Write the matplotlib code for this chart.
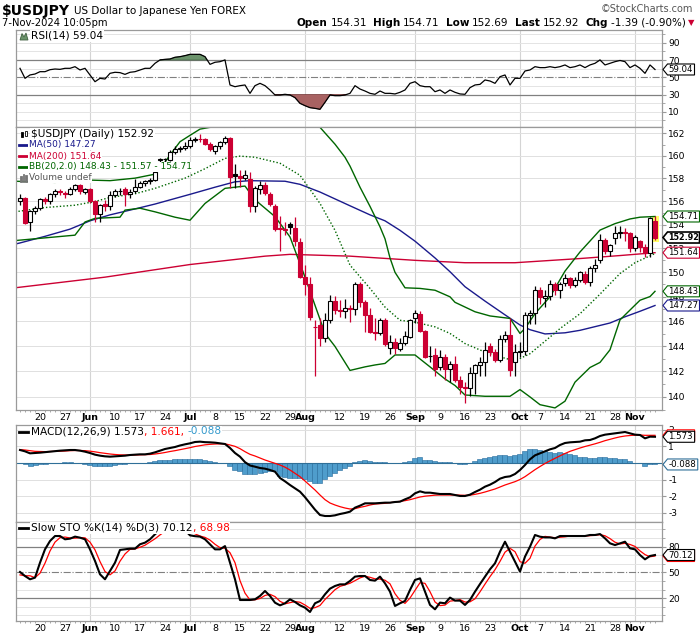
import matplotlib
matplotlib.use("Agg")
import matplotlib.pyplot as plt
from matplotlib.patches import Rectangle, Polygon
from matplotlib.ticker import FixedLocator, FixedFormatter, NullFormatter
from matplotlib.transforms import IdentityTransform

# ---- values: daily bars 14-May-2024 .. 7-Nov-2024 (index 0..127) ----
opens = [156.0, 156.3, 154.24, 155.16, 155.48, 156.2, 156.0, 156.62, 156.92, 156.72,
         156.62, 157.09, 157.44, 156.82, 157.04, 156.0, 154.96, 155.78, 155.58, 156.57,
         156.87, 157.04, 156.62, 156.87, 157.29, 157.61, 157.76, 157.91, 159.62, 159.72,
         159.67, 160.35, 160.6, 160.68, 160.83, 161.4, 161.5, 161.45, 161.08, 160.45,
         160.83, 161.25, 161.55, 158.38, 158.23, 158.08, 157.96, 155.58, 157.04, 157.39,
         156.67, 155.63, 153.73, 153.63, 154.04, 153.73, 152.56, 149.6, 149.05, 145.49,
         145.69, 144.62, 146.12, 147.63, 146.94, 146.86, 147.04, 146.99, 149.05, 147.53,
         146.46, 145.16, 145.01, 146.07, 143.87, 144.35, 143.77, 144.25, 144.72, 146.27,
         146.61, 145.21, 143.19, 143.29, 142.35, 143.09, 142.15, 142.55, 141.35, 140.79,
         140.67, 141.87, 142.5, 142.72, 143.97, 143.49, 142.87, 144.57, 144.92, 142.72,
         143.49, 143.57, 146.46, 146.66, 148.55, 147.92, 148.02, 149.0, 148.55, 149.1,
         149.55, 148.95, 149.4, 149.9, 149.2, 150.4, 151.0, 152.7, 151.8, 152.9,
         153.3, 153.4, 153.3, 152.0, 152.6, 152.1, 151.6, 154.31]
highs = [156.62, 156.4, 155.26, 155.58, 156.3, 156.4, 156.72, 157.04, 157.04, 156.92,
         157.24, 157.56, 157.56, 157.14, 157.14, 156.1, 155.78, 156.1, 156.92, 157.04,
         157.14, 157.24, 157.04, 157.96, 157.76, 157.86, 158.08, 158.81, 159.82, 159.82,
         160.5, 160.83, 160.83, 161.25, 161.65, 161.7, 161.93, 161.55, 161.25, 160.93,
         161.35, 161.78, 161.65, 159.24, 158.71, 158.71, 158.58, 157.34, 157.76, 157.66,
         156.82, 155.78, 154.75, 154.24, 154.24, 154.65, 152.91, 150.6, 149.6, 146.07,
         146.27, 146.66, 148.12, 148.02, 147.73, 147.83, 147.34, 149.2, 149.2, 147.73,
         147.04, 146.27, 146.27, 146.27, 144.92, 144.62, 144.62, 145.21, 146.17, 146.94,
         146.86, 145.31, 143.97, 143.87, 143.69, 143.39, 142.82, 143.19, 141.67, 141.14,
         142.35, 142.55, 143.09, 144.35, 144.25, 143.77, 144.92, 145.21, 146.27, 144.15,
         144.35, 146.76, 146.94, 148.9, 148.8, 148.5, 149.4, 149.2, 149.2, 149.9,
         149.6, 149.6, 150.1, 150.1, 150.5, 151.1, 153.2, 152.9, 152.4, 153.9,
         153.9, 153.7, 153.4, 153.1, 152.7, 152.4, 154.7, 154.71]
lows = [155.68, 154.04, 153.43, 154.96, 155.26, 155.78, 155.78, 156.4, 156.52, 156.3,
        156.52, 156.92, 156.62, 156.62, 155.88, 154.24, 154.24, 155.16, 155.26, 156.4,
        156.52, 155.58, 156.3, 156.72, 157.14, 157.34, 157.56, 157.76, 159.44, 159.44,
        159.54, 160.2, 160.3, 160.5, 160.73, 161.25, 161.25, 160.93, 160.4, 160.2,
        160.6, 161.03, 157.14, 157.14, 157.24, 157.86, 155.06, 155.06, 156.62, 156.52,
        155.58, 153.43, 151.8, 153.12, 153.22, 152.21, 149.5, 148.12, 146.07, 141.6,
        143.97, 144.35, 145.89, 146.56, 146.37, 146.27, 145.97, 146.46, 147.14, 145.11,
        145.01, 144.45, 144.92, 143.97, 143.39, 143.39, 143.57, 144.05, 144.62, 145.89,
        145.11, 143.02, 142.72, 141.67, 142.07, 141.3, 141.2, 141.14, 140.2, 139.5,
        140.1, 140.2, 141.6, 141.6, 143.19, 142.72, 142.72, 144.35, 141.6, 141.6,
        143.09, 143.29, 145.79, 145.79, 147.43, 147.14, 147.73, 148.12, 147.92, 148.9,
        148.7, 148.8, 149.2, 149.0, 148.9, 150.0, 150.8, 151.5, 151.4, 152.4,
        152.9, 152.6, 151.7, 151.8, 151.7, 151.3, 151.3, 152.69]
closes = [156.3, 154.14, 155.21, 155.48, 156.2, 156.0, 156.62, 156.92, 156.82, 156.62,
          157.09, 157.44, 156.87, 157.09, 156.0, 154.96, 155.68, 155.63, 156.57, 156.87,
          156.87, 156.67, 156.82, 157.29, 157.61, 157.76, 157.91, 158.61, 159.69, 159.7,
          160.35, 160.6, 160.71, 160.83, 161.4, 161.5, 161.45, 161.03, 160.6, 160.83,
          161.25, 161.55, 158.13, 158.23, 158.08, 158.28, 155.58, 157.14, 157.44, 156.72,
          155.78, 153.68, 153.63, 153.58, 153.78, 152.61, 149.6, 149.05, 146.37, 145.54,
          144.62, 146.12, 147.63, 146.89, 146.86, 147.04, 146.99, 149.05, 147.58, 146.46,
          145.16, 145.01, 146.07, 144.2, 144.35, 143.82, 144.25, 144.77, 146.07, 146.66,
          145.21, 143.14, 143.24, 142.15, 143.09, 142.15, 142.55, 141.35, 140.79, 140.67,
          141.87, 142.5, 142.72, 143.67, 143.49, 142.87, 144.57, 144.92, 142.07, 143.54,
          143.62, 146.46, 146.66, 148.55, 147.97, 148.02, 149.0, 148.5, 149.0, 149.55,
          148.95, 149.4, 150.05, 149.2, 150.4, 150.6, 152.7, 151.8, 152.3, 153.3,
          153.4, 153.3, 152.0, 152.97, 152.1, 151.6, 154.6, 152.92]

# overlays, read at selected bars (bar index, value)
ma50_idx = [-1, 0, 5, 10, 14, 18, 23, 27, 34, 39, 43, 46, 53, 56, 60, 66, 70, 73, 76, 79,
            83, 86, 89, 93, 97, 100, 102, 105, 109, 112, 118, 121, 124, 127]
ma50_val = [152.36, 152.46, 153.02, 153.63, 154.34, 154.85, 155.36, 155.78, 156.62, 157.24,
            157.71, 157.81, 157.76, 157.49, 156.82, 155.63, 154.85, 154.34, 153.53, 152.61,
            151.2, 150.05, 148.81, 147.63, 146.51, 145.69, 145.31, 144.97, 145.06, 145.26,
            145.85, 146.35, 146.8, 147.27]
ma200_idx = [-1, 17, 34, 49, 54, 66, 79, 89, 99, 112, 120, 127]
ma200_val = [148.72, 149.6, 150.65, 151.35, 151.5, 151.35, 151.0, 150.8, 150.8, 151.15, 151.4, 151.64]
bb_up_idx = [-1, 7, 14, 18, 23, 27, 28, 30, 32, 34, 36, 38, 42, 45, 47, 52, 57, 60, 63, 65,
             66, 68, 70, 72, 73, 74, 75, 77, 80, 83, 86, 87, 91, 94, 98, 100, 101, 103, 106,
             109, 112, 116, 119, 122, 124, 127]
bb_up_val = [157.76, 157.66, 157.86, 157.81, 158.03, 158.38, 158.81, 160.07, 161.25, 161.82,
             162.38, 162.54, 162.6, 162.54, 163.2, 163.6, 163.3, 162.54, 161.03, 159.87,
             159.09, 157.24, 155.58, 153.83, 152.81, 151.2, 150.0, 148.72, 148.67, 148.52,
             147.98, 147.53, 146.76, 146.42, 146.22, 145.01, 145.41, 146.61, 147.98, 150.1,
             151.7, 153.55, 154.1, 154.5, 154.65, 154.71]
bb_mid_idx = [-1, 5, 11, 15, 18, 23, 27, 33, 37, 41, 44, 47, 52, 56, 60, 63, 66, 70, 73, 76,
              79, 83, 86, 89, 93, 96, 99, 102, 106, 108, 112, 116, 120, 123, 127]
bb_mid_val = [155.11, 155.48, 155.68, 156.0, 156.35, 156.67, 157.14, 158.03, 158.86, 159.77,
              159.97, 159.87, 159.34, 158.28, 155.83, 153.53, 150.6, 148.67, 147.14, 146.07,
              145.92, 145.54, 145.01, 144.2, 143.52, 143.14, 142.82, 143.39, 144.72, 145.4,
              146.6, 148.2, 149.9, 150.8, 151.57]
bb_lo_idx = [-1, 11, 13, 15, 20, 21, 24, 27, 31, 34, 37, 41, 45, 47, 51, 54, 57, 61, 63, 66,
             69, 71, 73, 75, 79, 82, 85, 87, 89, 93, 98, 100, 102, 104, 107, 109, 111, 114,
             116, 118, 120, 122, 124, 126, 127]
bb_lo_val = [152.66, 153.12, 154.24, 154.55, 154.65, 155.26, 155.42, 155.11, 154.65, 154.39,
             155.83, 157.14, 157.34, 156.15, 154.7, 152.97, 149.6, 145.01, 143.97, 142.07,
             142.35, 142.5, 142.62, 143.29, 143.29, 142.35, 141.4, 140.89, 140.15, 140.05,
             140.05, 140.57, 140.0, 139.4, 139.15, 139.67, 141.15, 142.3, 142.7, 143.7,
             146.1, 146.9, 147.7, 148.0, 148.43]

rsi = [60.4, 48.8, 52.7, 53.8, 56.5, 56.5, 58.8, 59.6, 59.2, 60.4,
       60.4, 62.3, 58.5, 60.4, 52.7, 44.9, 48.8, 48.0, 54.6, 55.8,
       55.4, 53.4, 55.8, 56.5, 58.5, 60.4, 60.4, 66.2, 70.1, 70.8,
       71.2, 73.2, 73.9, 75.1, 76.6, 76.6, 76.6, 73.9, 65.0, 67.4,
       68.1, 70.1, 41.1, 39.1, 40.3, 41.1, 31.4, 40.3, 43.0, 40.3,
       35.3, 29.5, 29.5, 30.3, 29.5, 26.4, 19.8, 17.1, 14.8, 14.0,
       12.9, 21.0, 29.5, 28.7, 28.7, 29.5, 31.4, 40.3, 36.4, 34.1,
       31.4, 30.3, 34.1, 31.4, 31.4, 30.7, 32.6, 35.3, 43.0, 44.9,
       40.3, 39.1, 39.1, 33.3, 35.3, 31.4, 35.3, 32.6, 30.7, 30.3,
       38.0, 41.1, 41.8, 46.9, 45.7, 43.0, 50.7, 52.7, 41.1, 48.8,
       48.8, 57.3, 58.5, 62.3, 61.2, 61.2, 62.3, 61.2, 62.3, 64.3,
       61.2, 62.3, 64.3, 61.2, 64.3, 66.2, 70.1, 64.3, 66.2, 68.1,
       69.5, 68.1, 61.2, 64.3, 60.4, 54.6, 64.3, 59.04]

macd = [0.78, 0.70, 0.58, 0.60, 0.62, 0.65, 0.68, 0.71, 0.74, 0.76,
        0.78, 0.78, 0.74, 0.68, 0.60, 0.50, 0.44, 0.40, 0.38, 0.40,
        0.42, 0.44, 0.48, 0.50, 0.52, 0.52, 0.56, 0.64, 0.74, 0.84,
        0.90, 0.96, 1.05, 1.12, 1.18, 1.26, 1.28, 1.25, 1.24, 1.22,
        1.18, 1.14, 0.90, 0.60, 0.38, 0.05, -0.15, -0.22, -0.30, -0.34,
        -0.42, -0.52, -0.90, -1.10, -1.32, -1.52, -1.72, -2.05, -2.42, -2.80,
        -3.12, -3.18, -3.18, -3.14, -3.06, -3.00, -2.92, -2.68, -2.56, -2.42,
        -2.42, -2.42, -2.40, -2.38, -2.38, -2.34, -2.32, -2.18, -2.06, -1.82,
        -1.70, -1.78, -1.78, -1.82, -1.86, -1.86, -1.86, -1.92, -1.98, -1.98,
        -1.90, -1.74, -1.60, -1.42, -1.30, -1.14, -0.94, -0.84, -0.80, -0.66,
        -0.42, -0.12, 0.22, 0.46, 0.58, 0.70, 0.82, 0.90, 1.08, 1.20,
        1.24, 1.26, 1.28, 1.36, 1.38, 1.48, 1.62, 1.70, 1.74, 1.78,
        1.82, 1.86, 1.78, 1.70, 1.68, 1.48, 1.58, 1.573]
signal = [0.80, 0.78, 0.74, 0.70, 0.69, 0.68, 0.69, 0.70, 0.71, 0.72,
          0.74, 0.75, 0.75, 0.74, 0.71, 0.67, 0.62, 0.58, 0.54, 0.51,
          0.49, 0.48, 0.48, 0.48, 0.49, 0.50, 0.51, 0.54, 0.58, 0.63,
          0.69, 0.74, 0.80, 0.86, 0.92, 0.99, 1.04, 1.09, 1.12, 1.14,
          1.15, 1.15, 1.08, 1.00, 0.86, 0.68, 0.52, 0.42, 0.30, 0.18,
          0.08, -0.02, -0.12, -0.25, -0.42, -0.62, -0.82, -1.08, -1.35, -1.62,
          -1.92, -2.20, -2.40, -2.52, -2.62, -2.70, -2.76, -2.74, -2.66, -2.60,
          -2.52, -2.46, -2.44, -2.42, -2.38, -2.34, -2.30, -2.26, -2.20, -2.12,
          -2.04, -1.99, -1.96, -1.93, -1.92, -1.92, -1.92, -1.92, -1.93, -1.94,
          -1.93, -1.88, -1.82, -1.74, -1.65, -1.56, -1.44, -1.32, -1.22, -1.12,
          -0.99, -0.82, -0.61, -0.40, -0.21, -0.03, 0.13, 0.28, 0.43, 0.57,
          0.70, 0.80, 0.90, 0.99, 1.07, 1.15, 1.24, 1.34, 1.42, 1.50,
          1.57, 1.62, 1.65, 1.67, 1.68, 1.66, 1.66, 1.661]

sto_k = [50.4, 45.7, 41.9, 43.8, 61.2, 76.7, 86.4, 92.2, 92.2, 88.4,
         89.1, 91.5, 90.3, 88.4, 76.7, 63.2, 47.7, 41.9, 51.6, 61.2,
         76.0, 76.7, 77.5, 77.5, 82.6, 84.5, 88.4, 94.2, 99.5, 100.0,
         100.0, 100.0, 100.0, 99.0, 93.0, 92.0, 91.5, 88.4, 82.6, 76.7,
         76.7, 80.5, 61.2, 41.9, 17.8, 17.8, 17.8, 18.6, 22.5, 28.3,
         22.5, 14.7, 11.6, 14.0, 18.6, 15.5, 11.6, 8.9, 3.9, 14.0,
         16.7, 24.4, 31.0, 34.1, 36.0, 36.0, 39.9, 45.0, 45.7, 45.7,
         41.1, 40.3, 45.0, 37.2, 27.5, 10.9, 14.0, 16.7, 29.5, 41.1,
         43.0, 27.5, 12.1, 7.0, 14.8, 14.0, 20.6, 17.1, 17.1, 12.1,
         17.9, 27.5, 36.4, 45.0, 53.5, 60.5, 74.0, 85.6, 74.0, 62.4,
         50.8, 68.2, 79.8, 93.4, 91.4, 90.6, 90.6, 89.5, 92.2, 92.2,
         92.2, 92.2, 92.2, 92.2, 93.4, 93.4, 94.5, 89.5, 83.7, 81.7,
         83.7, 85.6, 77.9, 76.7, 70.1, 65.1, 69.0, 70.12]
sto_d = [47.0, 46.0, 46.0, 43.8, 49.0, 60.6, 74.8, 85.1, 90.3, 91.0,
         89.9, 89.7, 90.3, 90.1, 85.1, 76.1, 62.5, 50.9, 47.1, 51.6,
         62.9, 71.3, 76.7, 77.2, 79.2, 81.5, 85.2, 89.0, 93.5, 97.5,
         99.8, 100.0, 100.0, 99.7, 97.3, 94.7, 92.2, 90.6, 87.5, 82.6,
         78.7, 78.0, 72.8, 61.2, 40.3, 25.8, 17.8, 18.1, 19.6, 23.1,
         24.4, 21.8, 16.3, 13.4, 14.7, 16.0, 15.2, 12.0, 8.1, 8.9,
         11.5, 18.4, 24.0, 29.8, 33.7, 35.4, 37.3, 40.3, 43.5, 45.5,
         44.2, 42.4, 42.1, 40.8, 36.6, 25.2, 17.5, 13.9, 20.1, 29.1,
         37.9, 37.2, 27.5, 15.5, 11.3, 11.9, 16.5, 17.2, 18.3, 15.4,
         15.7, 19.2, 27.3, 36.3, 45.0, 53.0, 62.7, 73.4, 77.9, 74.0,
         62.4, 60.5, 66.3, 80.5, 88.2, 91.8, 90.9, 90.2, 90.8, 91.3,
         92.2, 92.2, 92.2, 92.2, 92.6, 93.0, 93.8, 92.5, 89.2, 85.0,
         83.0, 83.7, 82.4, 80.1, 74.9, 70.6, 68.1, 68.98]

# x-axis labels (bar index of each label)
tick_idx = [4, 9, 14, 19, 24, 29, 34, 39, 44, 49, 54, 57, 64, 69, 74, 79, 84, 89, 94,
            100, 104, 109, 114, 119, 123]
tick_lbl = ['20', '27', 'Jun', '10', '17', '24', 'Jul', '8', '15', '22', '29', 'Aug',
            '12', '19', '26', 'Sep', '9', '16', '23', 'Oct', '7', '14', '21', '28', 'Nov']
month_idx = [14, 34, 57, 79, 100, 123]
price_ticks = list(range(140, 163, 2))

RED = "#cc0033"
NAVY = "#1a1a8c"
GREEN = "#006600"
HIST = "#4f9dcc"
W, H = 700, 639
X0, X1 = 16, 662
n = len(closes)
xs = list(range(n))

fig = plt.figure(figsize=(W / 100, H / 100), dpi=100)
renderer = fig.canvas.get_renderer()


def panel(top, bottom, ylim, log=False):
    ax = fig.add_axes([X0 / W, 1 - bottom / H, (X1 - X0) / W, (bottom - top) / H])
    if log:
        ax.set_yscale("log")
    ax.set_xlim(-0.8, 128.4)
    ax.set_ylim(*ylim)
    for s in ax.spines.values():
        s.set_color("#9a9a9a")
        s.set_linewidth(0.9)
    ax.yaxis.tick_right()
    ax.tick_params(axis="y", which="both", direction="out", color="#9a9a9a",
                   labelcolor="black", labelsize=6.6, pad=1.5, length=3)
    ax.tick_params(axis="y", which="minor", length=2)
    ax.tick_params(axis="x", which="both", length=0, labelbottom=False)
    for m in month_idx:
        ax.axvline(m, color="#d4d4d4", lw=0.8, zorder=0)
    return ax


def xlabels(ax):
    ax.set_xticks(tick_idx)
    ax.set_xticklabels(tick_lbl)
    ax.set_xticks(xs, minor=True)
    ax.tick_params(axis="x", which="major", labelbottom=True, labelsize=6.8, pad=2, length=0)
    ax.tick_params(axis="x", which="minor", length=1.5, color="#9a9a9a", direction="out")
    for t in ax.get_xticklabels():
        if t.get_text() in ("Jun", "Jul", "Aug", "Sep", "Oct", "Nov"):
            t.set_fontweight("bold")


def ftxt(x, y, s, **kw):
    kw.setdefault("va", "center")
    return fig.text(x / W, 1 - y / H, s, **kw)


def pieces(x, y, parts, size, right=None):
    arts = []
    for s, gap, kw in parts:
        opts = {"fontsize": size, "ha": "left"}
        opts.update(kw)
        t = ftxt(x, y, s, **opts)
        x += t.get_window_extent(renderer).width + gap
        arts.append(t)
    if right is not None:
        shift = right - x
        for t in arts:
            t.set_x(t.get_position()[0] + shift / W)


def tag(ax, val, txt, ec, z, bold=False, lw=0.8):
    yd = ax.transData.transform((0, val))[1]
    x0 = X1 + 1
    t = fig.text((x0 + 5.5) / W, yd / H, txt, ha="left", va="center",
                 fontsize=5.8 if bold else 6.2, fontweight="bold" if bold else "normal",
                 zorder=z + 1)
    w = t.get_window_extent(renderer).width
    x1 = min(x0 + 5.5 + w + 1.5, W - 0.5)
    pts = [(x0, yd), (x0 + 4.5, yd + 5.5), (x1, yd + 5.5), (x1, yd - 5.5), (x0 + 4.5, yd - 5.5)]
    fig.add_artist(Polygon(pts, closed=True, transform=IdentityTransform(),
                           facecolor="white", edgecolor=ec, lw=lw, zorder=z))


def legend_line(y, color, lw=2.0):
    fig.add_artist(plt.Line2D([19 / W, 28 / W], [1 - y / H] * 2, color=color, lw=lw, zorder=12))


def icon(pts, fc, ec):
    fig.add_artist(Polygon([(x, H - y) for x, y in pts], closed=True,
                           transform=IdentityTransform(), facecolor=fc, edgecolor=ec,
                           lw=0.6, zorder=13))


# ---- RSI ----
ax_r = panel(30, 127, (-7.6, 104.8))
for v in (0, 10, 20, 40, 60, 80, 90, 100):
    ax_r.axhline(v, color="#e4e4e4", lw=0.7, zorder=0)
ax_r.axhline(70, color="#808080", lw=0.9, zorder=1)
ax_r.axhline(30, color="#808080", lw=0.9, zorder=1)
ax_r.axhline(50, color="#808080", lw=0.8, ls="-.", zorder=1)
ax_r.fill_between(xs, rsi, 70, where=[v > 70 for v in rsi], interpolate=True,
                  color="#6b936b", edgecolor="#3f5f3f", lw=0.5, zorder=2)
ax_r.fill_between(xs, rsi, 30, where=[v < 30 for v in rsi], interpolate=True,
                  color="#a86262", edgecolor="#6f3030", lw=0.5, zorder=2)
ax_r.plot(xs, rsi, color="black", lw=0.9, zorder=3)
ax_r.set_yticks([10, 30, 50, 70, 90])
ax_r.set_yticks(range(0, 101, 10), minor=True)

# ---- price (log scale) ----
ax_p = panel(127, 410, (138.99, 162.57), log=True)
for v in price_ticks:
    ax_p.axhline(v, color="#e0e0e0", lw=0.7, zorder=0)
ax_p.yaxis.set_major_locator(FixedLocator(price_ticks))
ax_p.yaxis.set_major_formatter(FixedFormatter([str(v) for v in price_ticks]))
ax_p.yaxis.set_minor_locator(FixedLocator(range(139, 163)))
ax_p.yaxis.set_minor_formatter(NullFormatter())
ax_p.add_patch(Rectangle((n - 1.55, lows[-1] - 0.12), 1.4, highs[-1] - lows[-1] + 0.15,
                         facecolor="#ffff66", edgecolor="none", zorder=1))
ax_p.plot(ma200_idx, ma200_val, color=RED, lw=1.0, zorder=2)
ax_p.plot(ma50_idx, ma50_val, color=NAVY, lw=1.0, zorder=2)
ax_p.plot(bb_up_idx, bb_up_val, color=GREEN, lw=1.0, zorder=2)
ax_p.plot(bb_lo_idx, bb_lo_val, color=GREEN, lw=1.0, zorder=2)
ax_p.plot(bb_mid_idx, bb_mid_val, color=GREEN, lw=1.0, ls=(0, (1, 1.5)), zorder=2)
for i in xs:
    o, h, l, c = opens[i], highs[i], lows[i], closes[i]
    prev = closes[i - 1] if i else c
    col = RED if c < prev else "black"
    ax_p.vlines(i, l, h, color=col, lw=0.9, zorder=3)
    lo, hi = min(o, c), max(o, c)
    ax_p.add_patch(Rectangle((i - 0.36, lo), 0.72, max(hi - lo, 0.04),
                             facecolor=col if c < o else "white", edgecolor=col,
                             lw=0.8, zorder=4))
xlabels(ax_p)

# ---- MACD ----
ax_m = panel(425, 522, (-3.54, 2.28))
for v in (2, 1, 0, -1, -2, -3):
    ax_m.axhline(v, color="#e0e0e0", lw=0.7, zorder=0)
hist = [a - b for a, b in zip(macd, signal)]
ax_m.bar(xs, hist, width=1.0, color=HIST, edgecolor="#24699a", lw=0.4, zorder=2)
ax_m.axhline(0, color="#2f6f98", lw=0.8, zorder=2)
ax_m.plot(xs, signal, color="red", lw=0.9, zorder=3)
ax_m.plot(xs, macd, color="black", lw=1.5, zorder=4)
ax_m.set_yticks([-3, -2, -1, 0, 1, 2])
ax_m.set_yticklabels(["-3", "-2", "-1", "", "1", "2"])

# ---- Slow stochastic ----
ax_s = panel(522, 621, (-6.6, 108.5))
for v in (0, 10, 30, 40, 60, 70, 90, 100):
    ax_s.axhline(v, color="#e4e4e4", lw=0.7, zorder=0)
ax_s.axhline(80, color="#808080", lw=0.9, zorder=1)
ax_s.axhline(20, color="#808080", lw=0.9, zorder=1)
ax_s.axhline(50, color="#808080", lw=0.8, ls="-.", zorder=1)
ax_s.plot(xs, sto_d, color="red", lw=0.9, zorder=3)
ax_s.plot(xs, sto_k, color="black", lw=1.5, zorder=4)
ax_s.set_yticks([20, 50, 80])
ax_s.set_yticks(range(0, 101, 10), minor=True)
xlabels(ax_s)

# ---- header ----
pieces(2, 11, [("$USDJPY", 4, dict(fontsize=10, fontweight="bold")),
               ("US Dollar to Japanese Yen FOREX", 0, {})], 7.5)
ftxt(2, 22.5, "7-Nov-2024 10:05pm", fontsize=7.2)
ftxt(693, 9, "\u00a9StockCharts.com", fontsize=7, ha="right", color="#555555")
B = dict(fontweight="bold")
pieces(0, 22.5, [("Open", 3, B), ("154.31", 6, {}), ("High", 3, B), ("154.71", 6, {}),
                 ("Low", 3, B), ("152.69", 6, {}), ("Last", 3, B), ("152.92", 6, {}),
                 ("Chg", 3, B), ("-1.39 (-0.90%)", 2, {}),
                 ("\u25bc", 0, dict(color=RED, fontsize=6))],
       7.5, right=694)

# ---- panel legends ----
WB = dict(facecolor="white", edgecolor="none", pad=0.4)
icon([(20, 40), (22, 33.5), (24, 37), (26, 33), (28, 40)], "#6b936b", "#3f5f3f")
ftxt(31, 36, "RSI(14) 59.04", fontsize=7.6, bbox=WB, zorder=12)
icon([(20.5, 132), (23, 132), (23, 137), (20.5, 137)], "black", "black")
icon([(24.5, 131), (27, 131), (27, 136), (24.5, 136)], "white", "black")
ftxt(31, 134, "$USDJPY (Daily) 152.92", fontsize=7.6, bbox=WB, zorder=12)
for y, col, s in ((145, NAVY, "MA(50) 147.27"), (156, RED, "MA(200) 151.64"),
                  (167, GREEN, "BB(20,2.0) 148.43 - 151.57 - 154.71")):
    legend_line(y, col)
    ftxt(29, y, s, fontsize=6.5, color=col, bbox=WB, zorder=12)
for bx, bt in ((20, 176), (22.5, 173.5), (25, 175)):
    icon([(bx, 182), (bx + 1.8, 182), (bx + 1.8, bt), (bx, bt)], "#777777", "#777777")
ftxt(29, 177.5, "Volume undef", fontsize=6.5, color="#555555", bbox=WB, zorder=12)

legend_line(431.5, "black")
pieces(31, 431.5, [("MACD(12,26,9) 1.573", 0, dict(bbox=WB, zorder=12)),
                   (", 1.661, ", 0, dict(color="red", bbox=WB, zorder=12)),
                   ("-0.088", 0, dict(color="#3399cc", bbox=WB, zorder=12))], 7.6)
legend_line(528, "black")
pieces(31, 528, [("Slow STO %K(14) %D(3) 70.12", 0, dict(bbox=WB, zorder=12)),
                 (", 68.98", 0, dict(color="red", bbox=WB, zorder=12))], 7.6)

# ---- value tags on the right ----
tag(ax_r, 59.04, "59.04", "black", 20)
tag(ax_p, 154.71, "154.71", GREEN, 20)
tag(ax_p, 151.64, "151.64", RED, 20)
tag(ax_p, 152.92, "152.92", "black", 22, bold=True, lw=1.2)
tag(ax_p, 148.43, "148.43", GREEN, 20)
tag(ax_p, 147.27, "147.27", NAVY, 22)
tag(ax_m, 1.661, "1.661", "red", 20)
tag(ax_m, 1.573, "1.573", "black", 22)
tag(ax_m, -0.088, "-0.088", "#2f6f98", 20)
tag(ax_s, 68.98, "68.98", "red", 20)
tag(ax_s, 70.12, "70.12", "black", 22)

fig.savefig("out.png", dpi=100)
